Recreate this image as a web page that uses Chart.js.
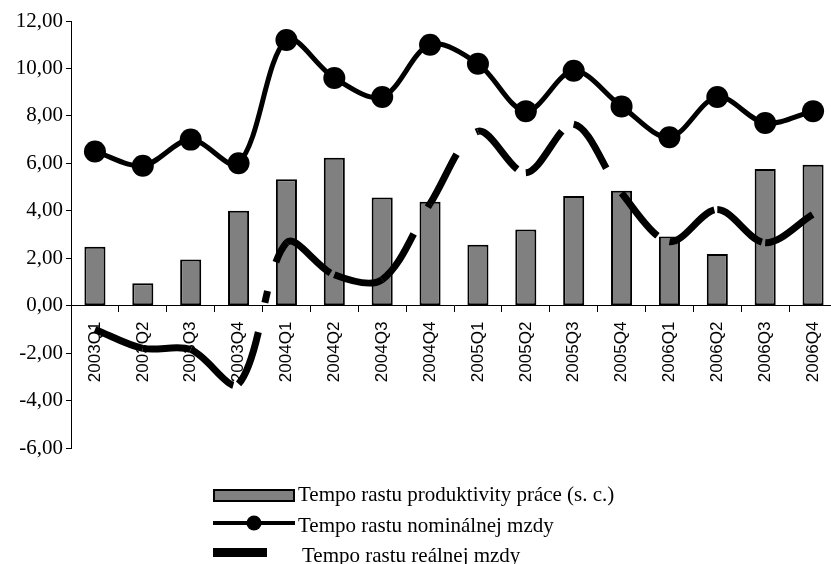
<!DOCTYPE html>
<html>
<head>
<meta charset="utf-8">
<script src="https://cdn.jsdelivr.net/npm/chart.js@4/dist/chart.umd.min.js"></script>
<style>
html,body{margin:0;padding:0;overflow:hidden;background:#fff;width:831px;height:564px}
#wrap{position:absolute;left:0;top:0;width:848px;height:564px}
</style>
</head>
<body>
<div id="wrap"><canvas id="c" width="848" height="564" style="width:848px;height:564px"></canvas></div>
<script>
// ---- data ----
const categories = ['2003Q1','2003Q2','2003Q3','2003Q4','2004Q1','2004Q2','2004Q3','2004Q4',
                    '2005Q1','2005Q2','2005Q3','2005Q4','2006Q1','2006Q2','2006Q3','2006Q4'];
const productivity = [2.48, 0.94, 1.95, 4.00, 5.33, 6.24, 4.56, 4.38, 2.57, 3.21, 4.62, 4.84, 2.92, 2.18, 5.76, 5.94];
const nominalWage  = [6.50, 5.90, 7.00, 6.00, 11.20, 9.60, 8.80, 11.00, 10.20, 8.20, 9.90, 8.40, 7.10, 8.80, 7.70, 8.20];
const realWage     = [-1.00, -1.80, -1.85, -3.30, 2.65, 1.30, 1.10, 4.30, 7.35, 5.60, 7.65, 4.75, 2.70, 4.05, 2.65, 3.85];
const seriesLabels = ['Tempo rastu produktivity práce (s. c.)', 'Tempo rastu nominálnej mzdy', 'Tempo rastu reálnej mzdy'];
const yTickValues  = [-6, -4, -2, 0, 2, 4, 6, 8, 10, 12];
const yTickLabels  = ['-6,00', '-4,00', '-2,00', '0,00', '2,00', '4,00', '6,00', '8,00', '10,00', '12,00'];

const SERIF = '"Liberation Serif", "Times New Roman", serif';
const SANS = '"Liberation Sans", Arial, sans-serif';

const rowLegend = {
  id: 'rowLegend',
  afterDraw(chart) {
    const ctx = chart.ctx;
    const ds = chart.data.datasets;
    const bar = ds.find(d => d.type === 'bar');
    const nom = ds.find(d => d.id === 'nom');
    const real = ds.find(d => d.id === 'real');
    ctx.save();
    // row 1: bar symbol
    ctx.fillStyle = bar.backgroundColor;
    ctx.fillRect(214, 490, 80, 11);
    ctx.strokeStyle = '#000';
    ctx.lineWidth = 2;
    ctx.strokeRect(214, 490, 80, 11);
    // row 2: line with marker
    ctx.beginPath();
    ctx.moveTo(213, 523);
    ctx.lineTo(295, 523);
    ctx.lineWidth = 4;
    ctx.stroke();
    ctx.beginPath();
    ctx.arc(254, 523, 7.5, 0, Math.PI * 2);
    ctx.fillStyle = '#000';
    ctx.fill();
    // row 3: thick dash
    ctx.fillRect(213, 548, 54, 9);
    // texts
    ctx.font = '21px ' + SERIF;
    ctx.textBaseline = 'alphabetic';
    ctx.textAlign = 'left';
    ctx.fillStyle = '#000';
    ctx.fillText(bar.label, 298, 501);
    ctx.fillText(nom.label, 298, 532);
    ctx.fillText(real.label, 302, 562);
    ctx.restore();
  }
};

new Chart(document.getElementById('c'), {
  data: {
    labels: categories,
    datasets: [
      {
        id: 'nom',
        type: 'line',
        label: seriesLabels[1],
        data: nominalWage,
        order: 1,
        borderColor: '#000',
        backgroundColor: '#000',
        borderWidth: 5,
        tension: 0.33,
        pointRadius: 11,
        pointHoverRadius: 11,
        pointBackgroundColor: '#000',
        pointBorderWidth: 0,
        fill: false
      },
      {
        id: 'real',
        type: 'line',
        label: seriesLabels[2],
        data: realWage,
        order: 2,
        borderColor: '#000',
        backgroundColor: '#000',
        borderWidth: 7,
        borderCapStyle: 'butt',
        borderDash: [56, 30, 12, 30],
        tension: 0.33,
        pointRadius: 0,
        pointHoverRadius: 0,
        fill: false,
        segment: {
          borderDashOffset: c => (c.p0DataIndex % 2) * 0.001
        }
      },
      {
        type: 'bar',
        label: seriesLabels[0],
        data: productivity,
        order: 3,
        backgroundColor: '#808080',
        borderColor: '#000',
        borderWidth: 2,
        borderSkipped: false,
        barPercentage: 0.44,
        categoryPercentage: 1
      }
    ]
  },
  options: {
    responsive: false,
    animation: false,
    devicePixelRatio: 1,
    layout: { padding: { top: 21, bottom: 116, left: 0, right: 8 } },
    plugins: { legend: { display: false }, tooltip: { enabled: false } },
    scales: {
      x: {
        type: 'category',
        position: { y: 0 },
        offset: true,
        grid: { display: true, drawOnChartArea: false, drawTicks: true, tickLength: 6, offset: true, color: '#000', tickColor: '#000', lineWidth: 1 },
        border: { display: true, color: '#000', width: 1 },
        ticks: { autoSkip: false, maxRotation: 90, minRotation: 90, padding: 10, color: '#000', font: { family: SANS, size: 17 } }
      },
      y: {
        type: 'linear',
        min: -6,
        max: 12,
        afterBuildTicks: s => { s.ticks = yTickValues.map(v => ({ value: v })); },
        afterFit: s => { s.width = 71; },
        grid: { display: true, drawOnChartArea: false, drawTicks: true, tickLength: 5, color: '#000', tickColor: '#000' },
        border: { display: true, color: '#000', width: 1 },
        ticks: {
          padding: 3,
          color: '#000',
          font: { family: SERIF, size: 21 },
          callback: v => yTickLabels[yTickValues.indexOf(v)]
        }
      }
    }
  },
  plugins: [rowLegend]
});
</script>
</body>
</html>
